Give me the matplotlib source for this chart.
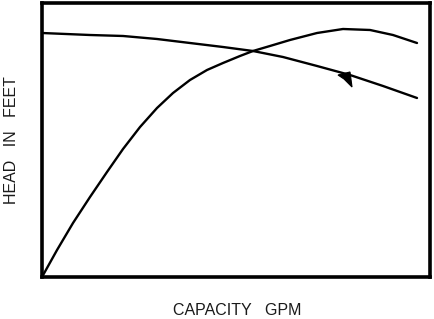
import numpy as np
import matplotlib.pyplot as plt

# pump curve (rising, with a peak), 0..100 scale
cap_pump = [0, 3.87, 7.99, 12.37, 16.75, 20.88, 25.26, 29.64, 33.76, 38.14, 42.53,
            46.65, 51.03, 54.38, 58.76, 63.92, 70.88, 77.58, 84.54, 90.46, 96.65]
head_pump = [0, 9.85, 19.71, 29.20, 38.32, 46.72, 54.74, 61.68, 67.15, 71.90, 75.55,
             78.10, 80.66, 82.48, 84.31, 86.50, 89.05, 90.51, 90.15, 88.32, 85.40]

# system / head curve (falling)
cap_sys = [0, 12.37, 20.88, 29.64, 38.14, 46.65, 54.38, 62.11, 70.88, 79.38, 87.89, 96.65]
head_sys = [89.05, 88.32, 87.96, 86.86, 85.40, 83.94, 82.48, 80.29, 77.01, 73.72,
            69.71, 65.33]

# little arrow mark
arrow_x = [76.29, 79.38, 79.90, 77.84]
arrow_y = [73.72, 74.82, 69.34, 72.26]

fig = plt.figure(figsize=(4.35, 3.19), dpi=100)
ax = fig.add_axes([0.0966, 0.1317, 0.8919, 0.8589])

ax.plot(cap_pump, head_pump, color='black', lw=1.7, solid_joinstyle='round',
        solid_capstyle='round')
ax.plot(cap_sys, head_sys, color='black', lw=1.7, solid_joinstyle='round',
        solid_capstyle='round')
ax.fill(arrow_x, arrow_y, color='black', lw=0.8)

ax.set_xlim(0, 100)
ax.set_ylim(0, 100)
ax.set_xticks([])
ax.set_yticks([])
for s in ax.spines.values():
    s.set_linewidth(2.6)

fig.text(0.546, 0.004, 'CAPACITY   GPM', ha='center', va='bottom',
         fontsize=11.5, family='Liberation Sans', color='#1a1a1a')
fig.text(0.027, 0.56, 'HEAD   IN   FEET', ha='center', va='center', rotation=90,
         fontsize=11.5, family='Liberation Sans', color='#1a1a1a')

fig.savefig('out.png', dpi=100)
